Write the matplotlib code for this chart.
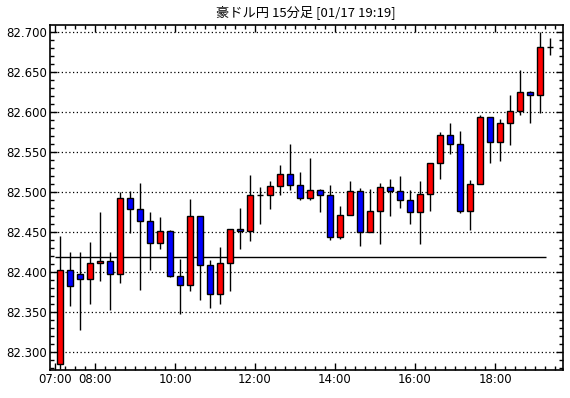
import matplotlib
matplotlib.use("Agg")
import matplotlib.pyplot as plt
from matplotlib.ticker import MultipleLocator, FixedLocator, FuncFormatter

# AUD/JPY 15-minute candles, 07:00 - 19:15
start_hour = 7.0
step_hours = 0.25
opens = [82.285, 82.403, 82.398, 82.392, 82.412, 82.414, 82.398, 82.493, 82.479, 82.464,
         82.437, 82.452, 82.396, 82.384, 82.470, 82.409, 82.373, 82.412, 82.454, 82.452,
         82.497, 82.497, 82.508, 82.523, 82.509, 82.493, 82.503, 82.496, 82.444, 82.472,
         82.501, 82.451, 82.477, 82.506, 82.502, 82.491, 82.475, 82.498, 82.537, 82.571,
         82.560, 82.477, 82.510, 82.594, 82.563, 82.586, 82.601, 82.625, 82.621, 82.682]
highs = [82.445, 82.425, 82.425, 82.438, 82.476, 82.425, 82.500, 82.502, 82.512, 82.476,
         82.469, 82.453, 82.417, 82.492, 82.470, 82.416, 82.432, 82.454, 82.480, 82.522,
         82.507, 82.514, 82.534, 82.560, 82.525, 82.543, 82.504, 82.509, 82.483, 82.514,
         82.505, 82.504, 82.512, 82.516, 82.520, 82.503, 82.514, 82.537, 82.575, 82.586,
         82.576, 82.515, 82.597, 82.594, 82.591, 82.621, 82.653, 82.627, 82.700, 82.693]
lows = [82.279, 82.358, 82.328, 82.361, 82.389, 82.353, 82.387, 82.449, 82.378, 82.403,
        82.429, 82.394, 82.348, 82.377, 82.365, 82.356, 82.360, 82.377, 82.429, 82.439,
        82.461, 82.479, 82.496, 82.503, 82.491, 82.491, 82.475, 82.440, 82.442, 82.472,
        82.433, 82.451, 82.435, 82.471, 82.481, 82.460, 82.435, 82.477, 82.516, 82.548,
        82.474, 82.453, 82.510, 82.536, 82.539, 82.559, 82.596, 82.586, 82.599, 82.672]
closes = [82.403, 82.383, 82.392, 82.412, 82.414, 82.398, 82.493, 82.479, 82.464, 82.437,
          82.452, 82.396, 82.384, 82.470, 82.409, 82.373, 82.412, 82.454, 82.452, 82.496,
          82.497, 82.508, 82.523, 82.509, 82.493, 82.503, 82.496, 82.444, 82.472, 82.501,
          82.451, 82.477, 82.506, 82.502, 82.491, 82.475, 82.498, 82.537, 82.571, 82.560,
          82.477, 82.510, 82.594, 82.563, 82.586, 82.601, 82.625, 82.621, 82.682, 82.682]
ref_level = 82.419
label_hours = [7, 8, 10, 12, 14, 16, 18]
title = "豪ドル円 15分足 [01/17 19:19]"

fig = plt.figure(figsize=(5.7, 3.98), dpi=100)
ax = fig.add_axes([50 / 570, 28 / 398, 513 / 570, 345 / 398])

x = [start_hour + step_hours * (i + 0.5) for i in range(len(opens))]
w = 0.15

for gy in [82.30, 82.35, 82.40, 82.45, 82.50, 82.55, 82.60, 82.65, 82.70]:
    ax.axhline(gy, color="black", lw=0.9, ls=(0, (1, 2)), zorder=1)

ax.hlines(ref_level, start_hour, x[-1] - 0.1, color="black", lw=1.0, zorder=2)

ax.vlines(x, lows, highs, color="black", lw=1.0, zorder=3)
for xi, o, c in zip(x, opens, closes):
    if abs(c - o) < 1e-9:
        ax.hlines(o, xi - w / 2, xi + w / 2, color="black", lw=1.0, zorder=4)
    else:
        col = "#ff0000" if c > o else "#0000ff"
        ax.bar(xi, abs(c - o), bottom=min(o, c), width=w, color=col,
               edgecolor="black", linewidth=1.0, zorder=4)

ax.set_xlim(6.875, 19.7)
ax.set_ylim(82.278, 82.709)

ax.xaxis.set_major_locator(FixedLocator(label_hours))
ax.xaxis.set_minor_locator(MultipleLocator(0.25))
ax.xaxis.set_major_formatter(FuncFormatter(lambda v, p: "%02d:00" % int(round(v))))
ax.yaxis.set_major_locator(MultipleLocator(0.05))
ax.yaxis.set_minor_locator(MultipleLocator(0.01))
ax.yaxis.set_major_formatter(FuncFormatter(lambda v, p: "%.3f" % v))

ax.tick_params(which="both", direction="in", top=True, right=True, labelsize=8.5, pad=2)
ax.tick_params(which="major", length=5, width=1)
ax.tick_params(which="minor", length=3, width=1)
for s in ax.spines.values():
    s.set_linewidth(1.2)

fig.text(306 / 570, 1 - 12 / 398, title, ha="center", va="center", fontsize=9.5,
         family=["Noto Sans CJK JP", "DejaVu Sans"])

fig.savefig("out.png", dpi=100)
